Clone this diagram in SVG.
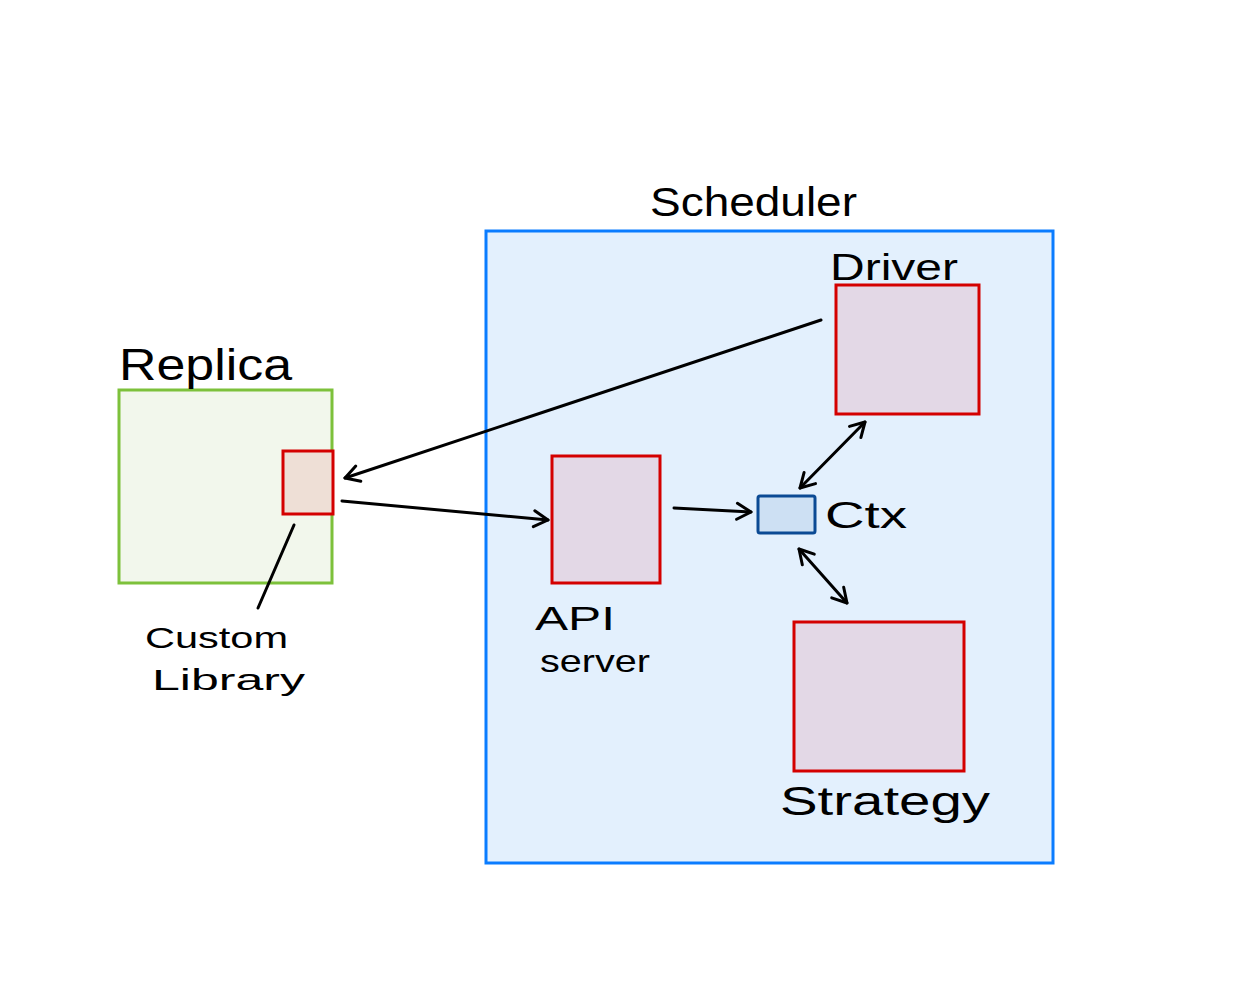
<svg xmlns="http://www.w3.org/2000/svg" width="1254" height="1000" viewBox="0 0 1254 1000">
<style>
.lbl{font-family:"Liberation Sans",Arial,sans-serif;fill:#000;}
.red{fill:#e3d8e6;stroke:#d40000;stroke-width:3;}
.con{fill:none;stroke:#000;stroke-width:3;stroke-linecap:round;stroke-linejoin:round;}
</style>
<defs>
<marker id="ah" viewBox="0 0 20 20" refX="17" refY="10" markerWidth="20" markerHeight="20" markerUnits="userSpaceOnUse" orient="auto-start-reverse">
<path d="M3,2 L17,10 L3,18" fill="none" stroke="#000" stroke-width="3" stroke-linecap="round" stroke-linejoin="round"/>
</marker>
</defs>
<rect width="1254" height="1000" fill="#fff"/>
<g id="scheduler">
<rect x="486" y="231" width="567" height="632" fill="#e3f0fd" stroke="#0a7cff" stroke-width="3"/>
<text class="lbl" x="650" y="216" font-size="40" textLength="207" lengthAdjust="spacingAndGlyphs">Scheduler</text>
</g>
<g id="replica">
<rect x="119" y="390" width="213" height="193" fill="#f2f7ec" stroke="#7dc13b" stroke-width="3"/>
<text class="lbl" x="119" y="380" font-size="44" textLength="173" lengthAdjust="spacingAndGlyphs">Replica</text>
</g>
<g id="custom-library">
<rect x="283" y="451" width="50" height="63" fill="#eedfd6" stroke="#d40000" stroke-width="3"/>
<text class="lbl" x="145" y="648" font-size="30" textLength="143" lengthAdjust="spacingAndGlyphs">Custom</text>
<text class="lbl" x="152" y="690" font-size="30" textLength="153" lengthAdjust="spacingAndGlyphs">Library</text>
</g>
<g id="api-server">
<rect class="red" x="552" y="456" width="108" height="127"/>
<text class="lbl" x="535" y="630" font-size="34" textLength="80" lengthAdjust="spacingAndGlyphs">API</text>
<text class="lbl" x="540" y="672" font-size="32" textLength="110" lengthAdjust="spacingAndGlyphs">server</text>
</g>
<g id="driver">
<rect class="red" x="836" y="285" width="143" height="129"/>
<text class="lbl" x="830" y="280" font-size="36" textLength="128" lengthAdjust="spacingAndGlyphs">Driver</text>
</g>
<g id="ctx">
<rect x="758" y="496" width="57" height="37" rx="2" fill="#cde0f3" stroke="#0b4a94" stroke-width="3"/>
<text class="lbl" x="825" y="528" font-size="36" textLength="82" lengthAdjust="spacingAndGlyphs">Ctx</text>
</g>
<g id="strategy">
<rect class="red" x="794" y="622" width="170" height="149"/>
<text class="lbl" x="780" y="815" font-size="40" textLength="210" lengthAdjust="spacingAndGlyphs">Strategy</text>
</g>
<g id="connectors">
<line class="con" x1="821" y1="320" x2="345" y2="478" marker-end="url(#ah)"/>
<path class="con" d="M342,501 L548,520" marker-end="url(#ah)"/>
<path class="con" d="M674,508 L751,512" marker-end="url(#ah)"/>
<line class="con" x1="800" y1="488" x2="865" y2="422" marker-start="url(#ah)" marker-end="url(#ah)"/>
<line class="con" x1="799" y1="549" x2="847" y2="603" marker-start="url(#ah)" marker-end="url(#ah)"/>
<line class="con" x1="294" y1="525" x2="258" y2="608"/>
</g>
</svg>
